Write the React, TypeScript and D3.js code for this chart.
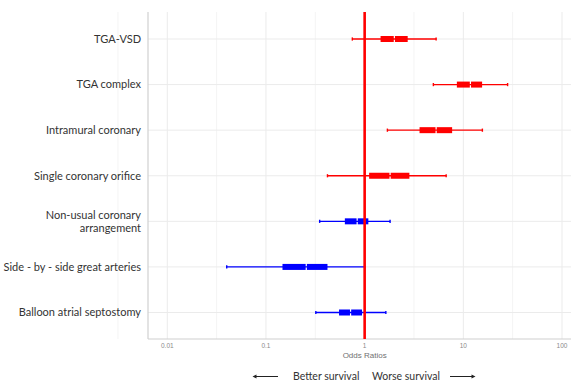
import React, { useEffect, useRef } from "react";
import * as d3 from "d3";

const labels = [
  "TGA-VSD",
  "TGA complex",
  "Intramural coronary",
  "Single coronary orifice",
  "Non-usual coronary|arrangement",
  "Side - by - side great arteries",
  "Balloon atrial septostomy",
];
const whiskerLow = [0.75, 4.97, 1.7, 0.42, 0.35, 0.04, 0.32];
const boxLow = [1.45, 8.6, 3.6, 1.11, 0.63, 0.147, 0.55];
const median = [2.0, 11.8, 5.3, 1.81, 0.84, 0.256, 0.72];
const boxHigh = [2.73, 15.5, 7.7, 2.84, 1.09, 0.42, 0.94];
const whiskerHigh = [5.3, 28.1, 15.6, 6.7, 1.81, 1.0, 1.64];
const groupColor = ["red", "red", "red", "red", "blue", "blue", "blue"];
const tickValues = [0.01, 0.1, 1, 10, 100];
const tickText = ["0.01", "0.1", "1", "10", "100"];

const W = 571;
const H = 381;

export default function App() {
  const ref = useRef<SVGSVGElement>(null);

  useEffect(() => {
    const svg = d3.select(ref.current);
    svg.selectAll("*").remove();

    const left = 148, top = 12, bottom = 339, right = 571;
    const x = d3.scaleLog().domain([0.01, 100]).range([167.3, 562]);
    const y = d3.scalePoint<number>().domain(d3.range(labels.length)).range([39, 312.5]);

    // minor grid (half decades)
    const minor = [-2.5, -1.5, -0.5, 0.5, 1.5, 2.5].map((e) => Math.pow(10, e));
    svg.append("g").selectAll("line").data(minor).enter().append("line")
      .attr("x1", (d) => x(d)).attr("x2", (d) => x(d))
      .attr("y1", top).attr("y2", bottom)
      .attr("stroke", "#f4f4f4").attr("stroke-width", 1);

    svg.append("g").selectAll("line").data(tickValues).enter().append("line")
      .attr("x1", (d) => x(d)).attr("x2", (d) => x(d))
      .attr("y1", top).attr("y2", bottom)
      .attr("stroke", "#ebebeb").attr("stroke-width", 1);

    svg.append("g").selectAll("line").data(d3.range(labels.length)).enter().append("line")
      .attr("x1", left).attr("x2", right)
      .attr("y1", (d) => y(d)!).attr("y2", (d) => y(d)!)
      .attr("stroke", "#ebebeb").attr("stroke-width", 1);

    // axis lines
    svg.append("line").attr("x1", left).attr("x2", left).attr("y1", top).attr("y2", bottom)
      .attr("stroke", "#d0d0d0").attr("stroke-width", 1.2);
    svg.append("line").attr("x1", left).attr("x2", right).attr("y1", bottom).attr("y2", bottom)
      .attr("stroke", "#d0d0d0").attr("stroke-width", 1.2);

    // y labels
    const yl = svg.append("g").attr("font-family", "Lato, sans-serif").attr("font-size", 11)
      .attr("fill", "#333");
    labels.forEach((lab, i) => {
      const lines = lab.split("|");
      lines.forEach((ln, j) => {
        yl.append("text")
          .attr("x", 141)
          .attr("y", y(i)! + (j - (lines.length - 1) / 2) * 12.7)
          .attr("dy", "0.35em")
          .attr("text-anchor", "end")
          .text(ln);
      });
    });

    // x tick labels
    svg.append("g").selectAll("text").data(tickValues).enter().append("text")
      .attr("x", (d) => x(d)).attr("y", 348)
      .attr("text-anchor", "middle")
      .attr("font-family", "Liberation Sans, Arial, sans-serif")
      .attr("font-size", 6.5).attr("fill", "#8a8a8a")
      .text((d, i) => tickText[i]);

    svg.append("text").attr("x", x(1)).attr("y", 358).attr("text-anchor", "middle")
      .attr("font-family", "Liberation Sans, Arial, sans-serif")
      .attr("font-size", 8).attr("fill", "#707070").text("Odds Ratios");

    // whiskers
    const rows = svg.append("g");
    d3.range(labels.length).forEach((i) => {
      const c = groupColor[i];
      const cy = y(i)!;
      const g = rows.append("g");
      g.append("line").attr("x1", x(whiskerLow[i])).attr("x2", x(whiskerHigh[i]))
        .attr("y1", cy).attr("y2", cy).attr("stroke", c).attr("stroke-width", 1.4);
      [whiskerLow[i], whiskerHigh[i]].forEach((v) => {
        g.append("line").attr("x1", x(v)).attr("x2", x(v))
          .attr("y1", cy - 1.6).attr("y2", cy + 1.6).attr("stroke", c).attr("stroke-width", 1.4);
      });
      g.append("rect").attr("x", x(boxLow[i])).attr("width", x(median[i]) - x(boxLow[i]) - 0.6)
        .attr("y", cy - 3).attr("height", 6).attr("fill", c);
      g.append("rect").attr("x", x(median[i]) + 0.6).attr("width", x(boxHigh[i]) - x(median[i]) - 0.6)
        .attr("y", cy - 3).attr("height", 6).attr("fill", c);
    });

    // reference line at OR = 1
    svg.append("line").attr("x1", x(1)).attr("x2", x(1)).attr("y1", top).attr("y2", bottom)
      .attr("stroke", "#ff0000").attr("stroke-width", 2.6);

    // bottom annotation
    const ann = svg.append("g").attr("font-family", "Lato, sans-serif").attr("font-size", 10.5)
      .attr("fill", "#333");
    ann.append("text").attr("x", 293).attr("y", 380).text("Better survival");
    ann.append("text").attr("x", 372).attr("y", 380).text("Worse survival");
    const ay = 376.5;
    svg.append("line").attr("x1", 256).attr("x2", 278).attr("y1", ay).attr("y2", ay)
      .attr("stroke", "#222").attr("stroke-width", 1);
    svg.append("path").attr("d", `M252.5,${ay} l4,-2 v4 z`).attr("fill", "#222");
    svg.append("line").attr("x1", 450).attr("x2", 472).attr("y1", ay).attr("y2", ay)
      .attr("stroke", "#222").attr("stroke-width", 1);
    svg.append("path").attr("d", `M475.5,${ay} l-4,-2 v4 z`).attr("fill", "#222");
  }, []);

  return (
    <svg
      ref={ref}
      width={W}
      height={H}
      style={{ position: "absolute", left: 0, top: 0, background: "#fff" }}
    />
  );
}
